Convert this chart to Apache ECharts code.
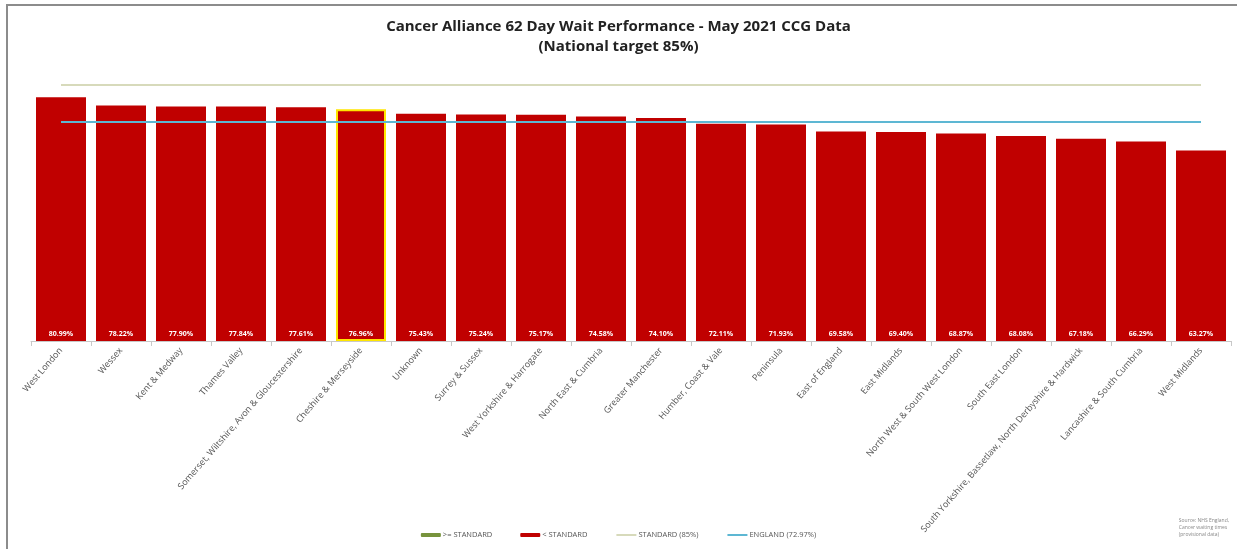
<!DOCTYPE html>
<html>
<head>
<meta charset="utf-8">
<script src="https://cdn.jsdelivr.net/npm/echarts@6/dist/echarts.min.js"></script>
<style>
html,body{margin:0;padding:0;background:#fff;}
#chart{width:1237px;height:549px;}
</style>
</head>
<body>
<div id="chart"></div>
<script>
const categories = ["West London","Wessex","Kent & Medway","Thames Valley","Somerset, Wiltshire, Avon & Gloucestershire","Cheshire & Merseyside","Unknown","Surrey & Sussex","West Yorkshire & Harrogate","North East & Cumbria","Greater Manchester","Humber, Coast & Vale","Peninsula","East of England","East Midlands","North West & South West London","South East London","South Yorkshire, Bassetlaw, North Derbyshire & Hardwick","Lancashire & South Cumbria","West Midlands"];
const performance = [80.99,78.22,77.90,77.84,77.61,76.96,75.43,75.24,75.17,74.58,74.10,72.11,71.93,69.58,69.40,68.87,68.08,67.18,66.29,63.27];
const standardTarget = 85;
const englandValue = 72.97;
const highlighted = "Cheshire & Merseyside";

const chart = echarts.init(document.getElementById('chart'));
const barData = performance.map((v,i)=>{
  const d = {value:v};
  if (categories[i] === highlighted) d.itemStyle = {borderColor:'#FFE600', borderWidth:2};
  return d;
});
chart.setOption({
  animation:false,
  title:{
    text:'Cancer Alliance 62 Day Wait Performance - May 2021 CCG Data\n(National target 85%)',
    left:'center', top:12,
    textStyle:{fontFamily:'Open Sans, Liberation Sans, sans-serif', fontSize:15, fontWeight:'bold', color:'#222', lineHeight:20}
  },
  legend:{
    bottom:5, left:'center', itemGap:28, itemWidth:20, itemHeight:4,
    textStyle:{fontFamily:'Open Sans, sans-serif', fontSize:7.5, color:'#555', padding:[0,0,0,-3]},
    data:[
      {name:'>= STANDARD', icon:'roundRect'},
      {name:'< STANDARD', icon:'roundRect'},
      {name:'STANDARD (85%)', itemStyle:{opacity:0}},
      {name:'ENGLAND (72.97%)', itemStyle:{opacity:0}}
    ]
  },
  grid:{left:31, right:6, top:70, bottom:208, containLabel:false},
  xAxis:{
    type:'category', data:categories,
    axisLine:{lineStyle:{color:'#c8c8c8'}},
    axisTick:{show:true, lineStyle:{color:'#c8c8c8'}},
    axisLabel:{rotate:49, interval:0, fontSize:9, color:'#555', fontFamily:'Open Sans, sans-serif', margin:8}
  },
  yAxis:{type:'value', min:0, max:90, show:false, splitLine:{show:false}},
  series:[
    {name:'>= STANDARD', type:'bar', data:[], itemStyle:{color:'#77933C'}, barGap:'-100%'},
    {name:'< STANDARD', type:'bar', data:barData, barWidth:50, itemStyle:{color:'#C00000'},
     label:{show:true, position:'insideBottom', distance:4, formatter:p=>p.value.toFixed(2)+'%', color:'#fff', fontSize:7, fontWeight:'bold', fontFamily:'Open Sans, sans-serif'}},
    {name:'STANDARD (85%)', type:'line', data:[], itemStyle:{color:'#D7DABB'}, lineStyle:{color:'#D7DABB', width:2}, symbol:'none',
     markLine:{silent:true, symbol:'none', label:{show:false}, lineStyle:{color:'#D7DABB', width:2, type:'solid'},
       data:[[{xAxis:categories[0], yAxis:standardTarget},{xAxis:categories[categories.length-1], yAxis:standardTarget}]]}},
    {name:'ENGLAND (72.97%)', type:'line', data:[], itemStyle:{color:'#5DB7D3'}, lineStyle:{color:'#5DB7D3', width:2}, symbol:'none',
     markLine:{silent:true, symbol:'none', label:{show:false}, lineStyle:{color:'#5DB7D3', width:2, type:'solid'},
       data:[[{xAxis:categories[0], yAxis:englandValue},{xAxis:categories[categories.length-1], yAxis:englandValue}]]}}
  ],
  graphic:[
    {type:'polyline', shape:{points:[[7,549],[7,5],[1237,5]]}, style:{stroke:'#8c8c8c', lineWidth:2, fill:null}},
    {type:'text', right:8, top:517, style:{text:'Source: NHS England,\nCancer waiting times\n(provisional data)', align:'right', fontSize:5, lineHeight:7, fill:'#888', fontFamily:'Open Sans, sans-serif'}}
  ]
});
</script>
</body>
</html>
